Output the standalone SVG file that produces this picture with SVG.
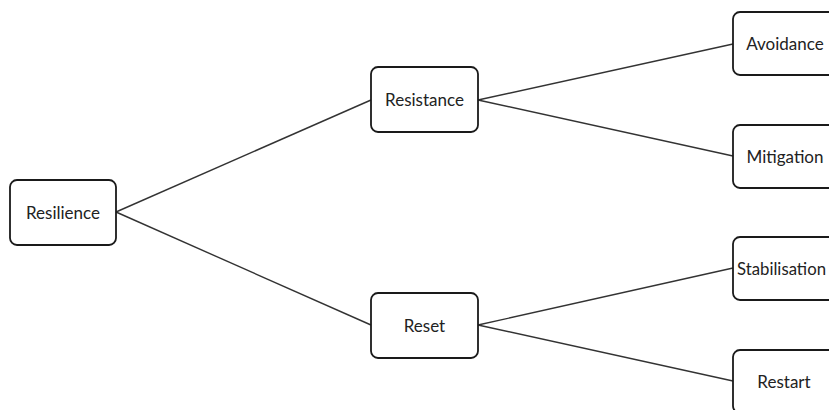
<svg xmlns="http://www.w3.org/2000/svg" width="829" height="410" viewBox="0 0 829 410">
<style>
.box{fill:#fff;stroke:#1a1a1a;stroke-width:1.8}
.lbl{font-family:Lato,"Open Sans",sans-serif;font-size:17px;fill:#222;text-anchor:middle;dominant-baseline:central}
.ln{stroke:#333;stroke-width:1.4;fill:none}
</style>
<rect width="829" height="410" fill="#fff"/>
<g id="connectors">
<line class="ln" x1="116" y1="212" x2="371" y2="100"/>
<line class="ln" x1="116" y1="212" x2="371" y2="325"/>
<line class="ln" x1="478" y1="100" x2="733" y2="44"/>
<line class="ln" x1="478" y1="100" x2="733" y2="156"/>
<line class="ln" x1="478" y1="325" x2="733" y2="268"/>
<line class="ln" x1="478" y1="325" x2="733" y2="381"/>
</g>
<g id="resilience"><rect class="box" x="10" y="180" width="106" height="65" rx="7"/><text class="lbl" x="63" y="212">Resilience</text></g>
<g id="resistance"><rect class="box" x="371" y="67" width="107" height="65" rx="7"/><text class="lbl" x="424.5" y="99">Resistance</text></g>
<g id="reset"><rect class="box" x="371" y="293" width="107" height="65" rx="7"/><text class="lbl" x="424.5" y="325">Reset</text></g>
<g id="avoidance"><rect class="box" x="733" y="12" width="107" height="63" rx="7"/><text class="lbl" x="785" y="43">Avoidance</text></g>
<g id="mitigation"><rect class="box" x="733" y="125" width="107" height="63" rx="7"/><text class="lbl" x="785" y="156">Mitigation</text></g>
<g id="stabilisation"><rect class="box" x="733" y="237" width="107" height="63" rx="7"/><text class="lbl" x="737" y="268" style="text-anchor:start" textLength="89" lengthAdjust="spacingAndGlyphs">Stabilisation</text></g>
<g id="restart"><rect class="box" x="733" y="350" width="107" height="63" rx="7"/><text class="lbl" x="784" y="381">Restart</text></g>
</svg>
